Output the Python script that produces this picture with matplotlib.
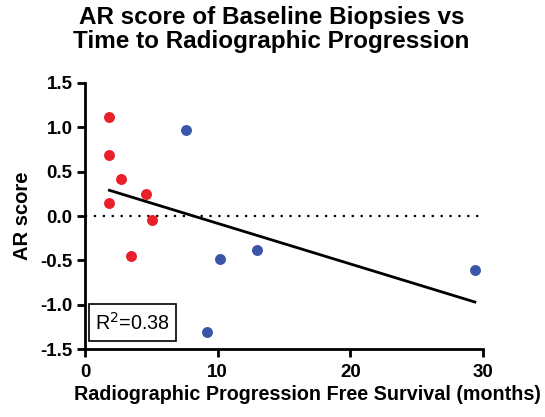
import matplotlib
matplotlib.use("Agg")
import matplotlib.pyplot as plt
from matplotlib.patches import Rectangle

plt.rcParams['font.family'] = ['Liberation Sans', 'DejaVu Sans']

red_x = [1.84, 1.84, 2.75, 1.84, 4.62, 5.08, 3.46]
red_y = [1.12, 0.69, 0.42, 0.15, 0.25, -0.04, -0.45]
blue_x = [7.6, 10.17, 9.2, 12.95, 29.4]
blue_y = [0.97, -0.48, -1.31, -0.38, -0.61]
fit_x = [1.84, 29.4]
fit_y = [0.29, -0.97]
x_ticks = [0, 10, 20, 30]
y_ticks = [-1.5, -1.0, -0.5, 0.0, 0.5, 1.0, 1.5]
r2_text = "R$^2$=0.38"

fig = plt.figure(figsize=(5.45, 4.17), dpi=100)
ax = fig.add_axes([0.156, 0.163, 0.73, 0.638])

ax.plot([0, 30], [0, 0], linestyle=(0, (1, 3)), color='black', linewidth=1.6)
ax.plot(fit_x, fit_y, color='black', linewidth=2)
ax.scatter(red_x, red_y, s=62, color='#E8202A', zorder=3, linewidths=0)
ax.scatter(blue_x, blue_y, s=62, color='#3A56A8', zorder=3, linewidths=0)

ax.set_xlim(0, 30)
ax.set_ylim(-1.5, 1.5)
ax.set_xticks(x_ticks)
ax.set_yticks(y_ticks)
ax.set_yticklabels([f"{v:.1f}" for v in y_ticks])
for s in ['top', 'right']:
    ax.spines[s].set_visible(False)
for s in ['left', 'bottom']:
    ax.spines[s].set_linewidth(2)
ax.tick_params(width=2, length=6, labelsize=13.5, pad=3)
ax.tick_params(axis='x', pad=5)
for lbl in ax.get_xticklabels() + ax.get_yticklabels():
    lbl.set_fontweight('bold')

ax.set_xlabel("Radiographic Progression Free Survival (months)", fontsize=14.2, fontweight='bold')
ax.xaxis.set_label_coords(0.558, -0.135)
ax.set_ylabel("AR score", fontsize=14.5, fontweight='bold', labelpad=6)
ax.set_title("AR score of Baseline Biopsies vs\nTime to Radiographic Progression", fontsize=17.5,
             fontweight='bold', pad=25, linespacing=1.05, x=0.469)

ax.add_patch(Rectangle((0.01, 0.03), 0.219, 0.139, transform=ax.transAxes, facecolor='white',
                       edgecolor='black', linewidth=1.2, zorder=4))
ax.text(0.12, 0.1, r2_text, transform=ax.transAxes, fontsize=14.2, va='center', ha='center', zorder=5)

fig.savefig("out.png", dpi=100)
